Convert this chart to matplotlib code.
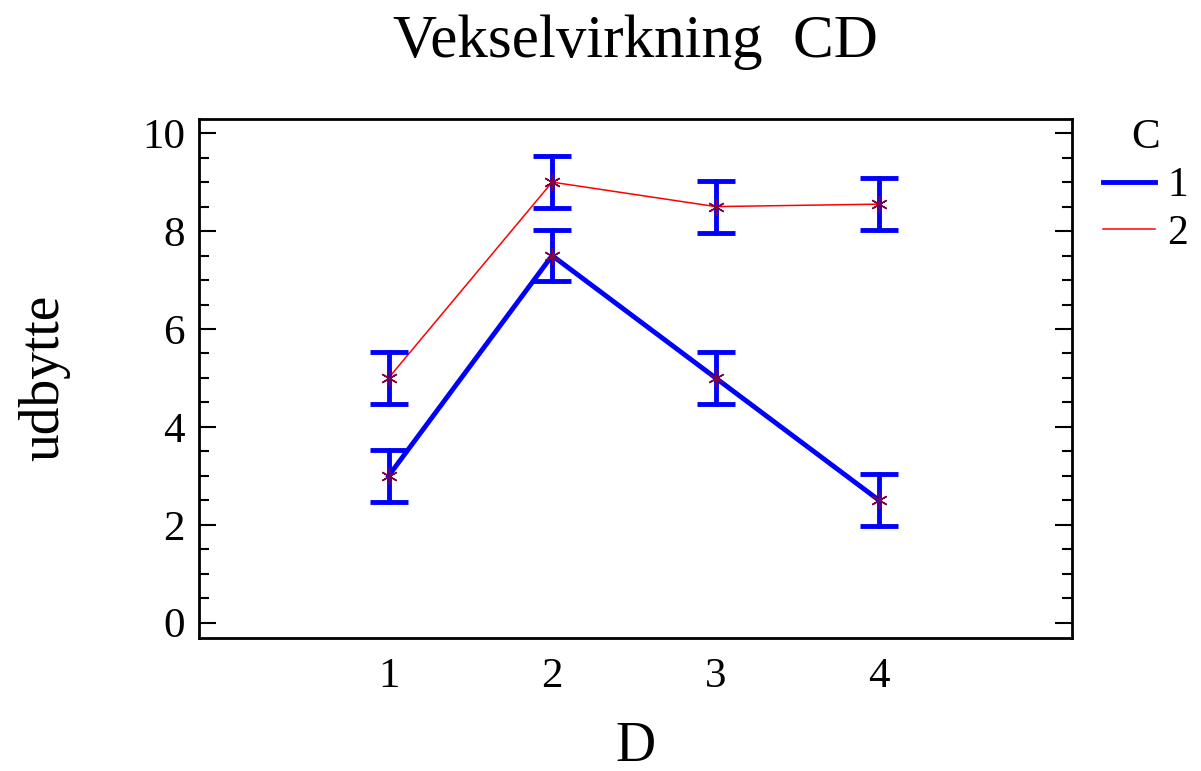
import matplotlib.pyplot as plt
from matplotlib.lines import Line2D
from matplotlib.ticker import MultipleLocator

plt.rcParams['font.family'] = ['Liberation Serif', 'DejaVu Serif']

# means of udbytte per D level, one list per C level
d_levels = [1, 2, 3, 4]
c1_mean = [3.0, 7.5, 5.0, 2.5]
c2_mean = [5.0, 9.0, 8.5, 8.55]
err = [0.53, 0.53, 0.53, 0.53]
c_labels = ['1', '2']

fig = plt.figure(figsize=(12.01, 7.71), dpi=100)
ax = fig.add_axes([0.1657, 0.1729, 0.7269, 0.6728])

blue = '#0000ff'
red = '#ff0000'
mark = '#800040'

ax.plot(d_levels, c1_mean, color=blue, lw=3.5, zorder=3)
ax.plot(d_levels, c2_mean, color=red, lw=1.1, zorder=3)

for means in (c1_mean, c2_mean):
    eb = ax.errorbar(d_levels, means, yerr=err, fmt='none', ecolor=blue,
                     elinewidth=3.5, capsize=13.5, capthick=3.5, zorder=4)
    for c in eb.lines[2]:
        c.set_capstyle('round')
    for c in eb.lines[1]:
        c.set_solid_capstyle('round')
    ax.plot(d_levels, means, ls='none', marker=(6, 2, 0), ms=12, mew=1.1,
            color=mark, zorder=5)

ax.set_xlim(-0.16, 5.18)
ax.set_ylim(-0.306, 10.29)
ax.set_xticks(d_levels)
ax.yaxis.set_major_locator(MultipleLocator(2))
ax.yaxis.set_minor_locator(MultipleLocator(0.5))
ax.tick_params(axis='y', which='major', direction='in', length=12, width=1.5,
               labelsize=31, pad=10, left=True, right=True)
ax.tick_params(axis='y', which='minor', direction='in', length=7, width=1.5,
               left=True, right=True)
ax.tick_params(axis='x', length=0, labelsize=31, pad=14)
for s in ax.spines.values():
    s.set_linewidth(2)

fig.text(0.529, 1 - 42 / 771, 'Vekselvirkning  CD', fontsize=44,
         ha='center', va='center')
ax.set_xlabel('D', fontsize=40, labelpad=18)
ax.set_ylabel('udbytte', fontsize=40, labelpad=52)

handles = [Line2D([], [], color=blue, lw=3.5), Line2D([], [], color=red, lw=1.1)]
leg = ax.legend(handles, c_labels, title='C', loc='upper left',
                bbox_to_anchor=(1.035, 1.0), frameon=False, fontsize=30,
                title_fontsize=31, handlelength=1.25, handletextpad=0.3,
                labelspacing=0.22, borderaxespad=0, borderpad=0)

fig.savefig('out.png', dpi=100)
